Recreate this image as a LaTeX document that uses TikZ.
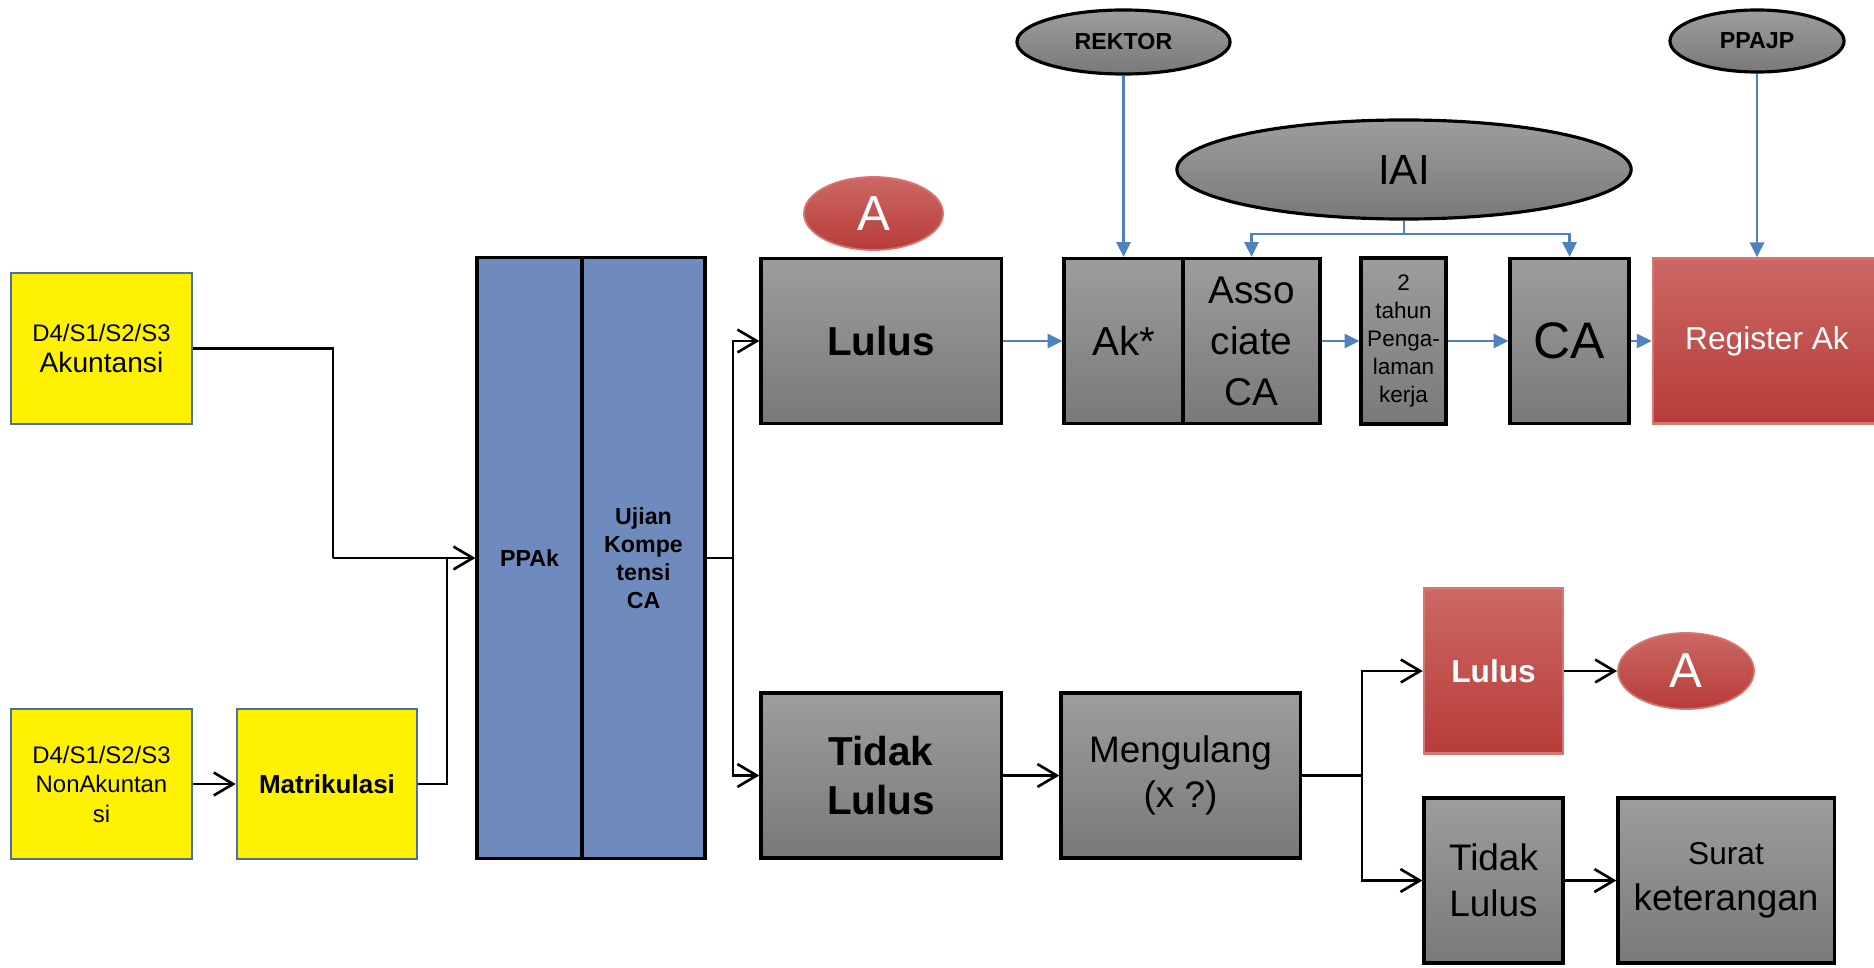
\documentclass[tikz,border=0pt]{standalone}
\usepackage{fontspec}
\setmainfont{Liberation Sans}
\usetikzlibrary{shapes.geometric,arrows.meta}

\definecolor{boxtop}{RGB}{157,157,157}
\definecolor{boxbot}{RGB}{121,121,121}
\definecolor{redtop}{RGB}{204,104,100}
\definecolor{redbot}{RGB}{183,60,57}
\definecolor{redline}{RGB}{214,118,113}
\definecolor{ppakblue}{RGB}{111,139,189}
\definecolor{yelline}{RGB}{78,110,158}
\definecolor{arrblue}{RGB}{79,129,189}

\newcommand{\fs}[2]{\fontsize{#1}{#2}\selectfont}

\begin{document}
\begin{tikzpicture}[x=0.01cm, y=-0.01cm,
    yelbox/.style={draw=yelline, line width=0.7pt, fill=yellow, align=center, inner sep=1pt},
    ppakbox/.style={draw=black, line width=0.9pt, fill=ppakblue, align=center, inner sep=1pt,
        minimum height=6cm},
    graybox/.style={draw=black, line width=0.9pt, top color=boxtop, bottom color=boxbot,
        align=center, inner sep=1pt, minimum height=1.65cm},
    redbox/.style={draw=redline, line width=0.7pt, top color=redtop, bottom color=redbot,
        text=white, align=center, inner sep=1pt, minimum height=1.65cm},
    grayoval/.style={ellipse, draw=black, line width=0.9pt, top color=boxtop, bottom color=boxbot, inner sep=0pt},
    redoval/.style={ellipse, draw=redline, line width=0.5pt, top color=redtop, bottom color=redbot,
        text=white, inner sep=0pt, font=\fs{14}{16}},
    blk/.style={line width=0.75pt, -{Straight Barb[length=5.5pt,width=6.5pt]}},
    blkline/.style={line width=0.75pt},
    blu/.style={draw=arrblue, line width=0.7pt, -{Triangle[length=4.2pt,width=4pt]}},
    bluline/.style={draw=arrblue, line width=0.7pt}]
    \useasboundingbox (0,0) rectangle (1874,967);

    % Inputs
    \node[yelbox, minimum width=1.81cm, minimum height=1.51cm, font=\fs{6.8}{9}] (akt) at (101.5,348.5)
        {D4/S1/S2/S3\\{\fs{8}{9}Akuntansi}};
    \node[yelbox, minimum width=1.81cm, minimum height=1.5cm, font=\fs{6.8}{8.4}] (non) at (101.5,784)
        {D4/S1/S2/S3\\NonAkuntan\\si};
    \node[yelbox, minimum width=1.8cm, minimum height=1.5cm, font=\fs{7.4}{9}\bfseries] (matrik) at (327,784)
        {Matrikulasi};

    % PPAk + exam
    \node[ppakbox, minimum width=1.05cm, font=\fs{6.6}{8}\bfseries] (ppak) at (529.5,558) {PPAk};
    \node[ppakbox, minimum width=1.23cm, font=\fs{6.6}{8}\bfseries] (ujian) at (643.5,558)
        {Ujian\\Kompe\\tensi\\CA};

    % Results
    \node[graybox, minimum width=2.4cm, font=\fs{11.5}{14}\bfseries] (lulus) at (881,341) {Lulus};
    \node[redoval, minimum width=1.39cm, minimum height=0.73cm] (atop) at (873.5,213.5) {A};
    \node[graybox, minimum width=2.4cm, font=\fs{11.5}{14}\bfseries] (tidak) at (881,775.5) {Tidak\\Lulus};

    % Top row
    \node[graybox, minimum width=1.19cm, font=\fs{11.5}{14}] (ak) at (1123.5,341) {Ak*};
    \node[graybox, minimum width=1.37cm, font=\fs{11}{14.5}] (assoc) at (1251.5,341) {Asso\\ciate\\CA};
    \node[graybox, minimum width=0.85cm, minimum height=1.66cm, font=\fs{6.4}{8}] (tahun) at (1403.5,341)
        {2\\tahun\\Penga-\\laman\\kerja};
    \node[graybox, minimum width=1.19cm, font=\fs{14.6}{17}] (ca) at (1569.5,341) {CA};
    \node[redbox, minimum width=2.28cm, font=\fs{9}{11}] (reg) at (1767,341) {Register Ak};

    % Institutions
    \node[grayoval, minimum width=2.13cm, minimum height=0.64cm, font=\fs{6.6}{8}\bfseries] (rektor) at (1123.5,42) {REKTOR};
    \node[grayoval, minimum width=1.74cm, minimum height=0.62cm, font=\fs{6.6}{8}\bfseries] (ppajp) at (1757,41) {PPAJP};
    \node[grayoval, minimum width=4.54cm, minimum height=0.99cm, font=\fs{12}{14}] (iai) at (1404,169.5) {IAI};

    % Repeat branch
    \node[graybox, minimum width=2.39cm, font=\fs{10.5}{12.7}] (meng) at (1180.5,775.5) {Mengulang\\(x ?)};
    \node[redbox, minimum width=1.39cm, font=\fs{9}{11}\bfseries] (lulus2) at (1493.5,671) {Lulus};
    \node[redoval, minimum width=1.36cm, minimum height=0.76cm] (abot) at (1686,671) {A};
    \node[graybox, minimum width=1.39cm, font=\fs{10.5}{13}] (tidak2) at (1493.5,880.5) {Tidak\\Lulus};
    \node[graybox, minimum width=2.16cm, font=\fs{10.5}{13}] (surat) at (1726,880.5)
        {{\fs{9}{13}Surat}\\keterangan};

    % Black connectors
    \coordinate (jl) at (333,558);
    \coordinate (jm) at (447,558);
    \coordinate (ju) at (733,558);
    \coordinate (jg) at (1362,775.5);
    \draw[blkline] (akt.east) -| (jl);
    \draw[blk] (jl) -- (ppak.west);
    \draw[blk] (non.east) -- (matrik.west);
    \draw[blkline] (matrik.east) -| (jm);
    \draw[blkline] (ujian.east) -- (ju);
    \draw[blk] (ju) |- (lulus.west);
    \draw[blk] (ju) |- (tidak.west);
    \draw[blk] (tidak.east) -- (meng.west);
    \draw[blkline] (meng.east) -- (jg);
    \draw[blk] (jg) |- (lulus2.west);
    \draw[blk] (jg) |- (tidak2.west);
    \draw[blk] (lulus2.east) -- (abot.west);
    \draw[blk] (tidak2.east) -- (surat.west);

    % Blue connectors
    \coordinate (ji) at (1404,234);
    \draw[blu] (lulus.east) -- (ak.west);
    \draw[blu] (assoc.east) -- (tahun.west);
    \draw[blu] (tahun.east) -- (ca.west);
    \draw[blu] (ca.east) -- (reg.west);
    \draw[blu] (rektor.south) -- (ak.north);
    \draw[blu] (ppajp.south) -- (ppajp.south |- reg.north);
    \draw[bluline] (iai.south) -- (ji);
    \draw[blu] (ji) -| (assoc.north);
    \draw[blu] (ji) -| (ca.north);
\end{tikzpicture}
\end{document}
